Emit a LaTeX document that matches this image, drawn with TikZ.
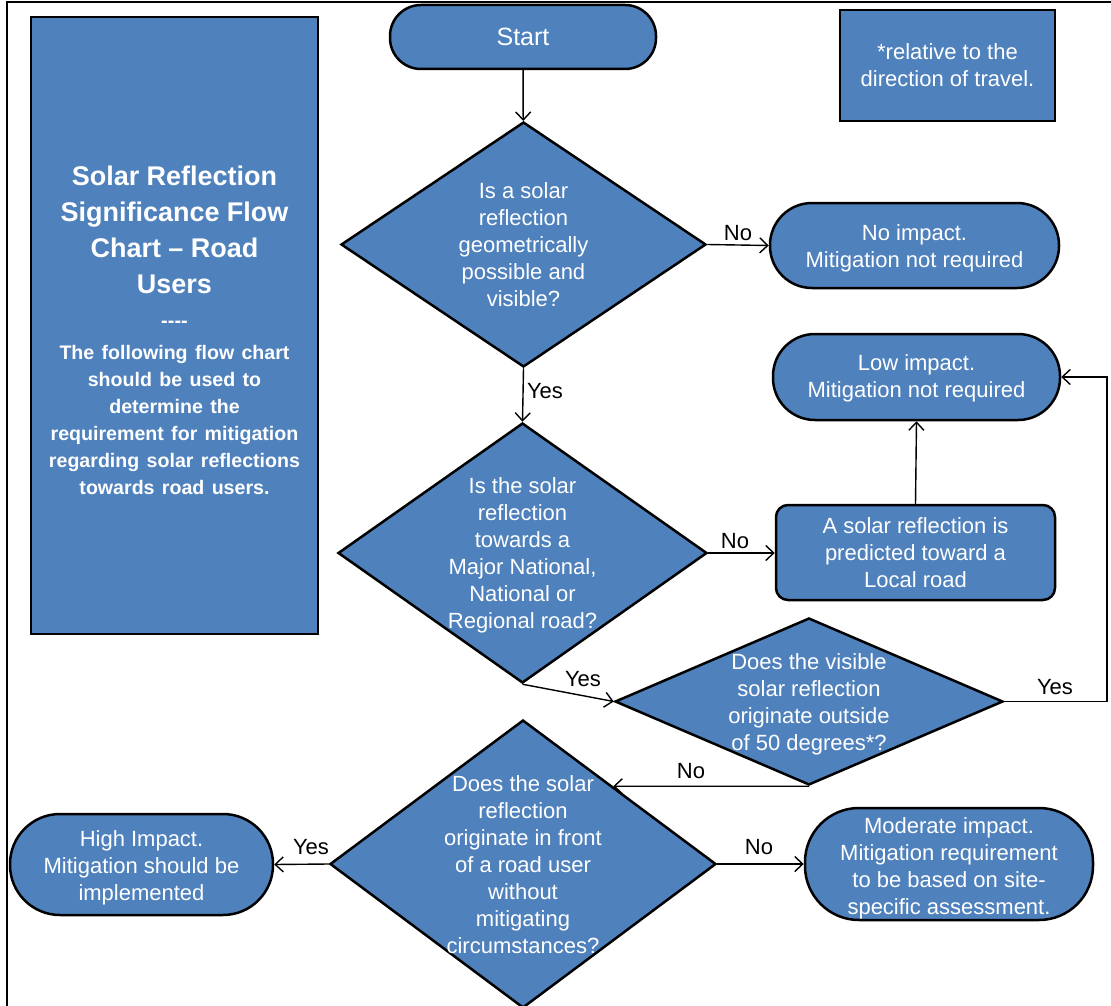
\documentclass[tikz,border=0pt]{standalone}
\usepackage{fontspec}
\setmainfont{Liberation Sans}
\usetikzlibrary{arrows.meta,shapes.geometric}
\definecolor{boxblue}{HTML}{4F81BD}
% zero-size centred block of lines, so long questions may run past the diamond outline
\newcommand\zlines[1]{\makebox[0pt]{\raisebox{-8pt}[0pt][0pt]{\begin{tabular}{@{}c@{}}#1\end{tabular}}}}
% tall invisible strut that lowers a text block a little inside its box
\newcommand\lowerby[1]{\rule{0pt}{#1}}
\begin{document}
\begin{tikzpicture}[x=1pt,y=-1pt,
  every node/.style={font=\fontsize{22}{27}\selectfont},
  blk/.style={draw=black, line width=2.5pt, fill=boxblue, text=white},
  term/.style={blk, rectangle, align=center, inner sep=0pt},
  dia/.style={blk, diamond, inner sep=0pt},
  conn/.style={draw=black, line width=1.4pt, -{Straight Barb[length=8pt,width=15pt,line width=1.4pt]}},
  lbl/.style={inner sep=0pt, text=black, font=\fontsize{22}{26}\selectfont}]
\useasboundingbox (0,0) rectangle (1111,1006);

% page frame
\draw[line width=1.5pt] (7,1006) -- (7,2) -- (1111,2);

% title panel
\node[term, text width=276, minimum width=287, minimum height=617] (title) at (174.5,325.5)
  {\bfseries{\fontsize{27}{36}\selectfont Solar Reflection\\Significance Flow\\Chart – Road\\Users\\[-2pt]
   {\fontsize{20}{27}\selectfont -\kern0pt-\kern0pt-\kern0pt-}\par}
   \vspace{5pt}
   {\fontsize{19.6}{27}\selectfont The following flow chart\\should be used to\\determine the\\requirement for mitigation\\regarding solar reflections\\towards road users.\par}
   \vspace{-10pt}};

% note
\node[term, minimum width=215, minimum height=111] (note) at (947.5,65.5)
  {*relative to the\\direction of travel.};

% terminals and process boxes
\node[term, minimum width=266, minimum height=64, rounded corners=31, font=\fontsize{25}{28}\selectfont] (start) at (523,37) {Start};
\node[term, minimum width=289, minimum height=85, rounded corners=42] (noimp) at (914.5,245.5)
  {\lowerby{21pt}No impact.\\Mitigation not required};
\node[term, minimum width=287, minimum height=86, rounded corners=42] (lowimp) at (916.5,377)
  {\lowerby{19pt}Low impact.\\Mitigation not required};
\node[term, minimum width=279, minimum height=95, rounded corners=12] (local) at (915.5,552.5)
  {A solar reflection is\\predicted toward a\\Local road};
\node[term, minimum width=263, minimum height=101, rounded corners=50] (highimp) at (141.5,864.5)
  {\lowerby{22pt}High Impact.\\Mitigation should be\\implemented};
\node[term, minimum width=288, minimum height=112, rounded corners=54] (modimp) at (949,864)
  {\lowerby{24pt}Moderate impact.\\Mitigation requirement\\to be based on site-\\specific assessment.};

% decisions
\node[dia, minimum width=365, minimum height=245] (d1) at (523.5,244.5)
  {\zlines{Is a solar\\reflection\\geometrically\\possible and\\visible?}};
\node[dia, minimum width=369, minimum height=260] (d2) at (522.5,553)
  {\zlines{Is the solar\\reflection\\towards a\\Major National,\\National or\\Regional road?}};
\node[dia, minimum width=388, minimum height=167] (d3) at (809,701.5)
  {\zlines{Does the visible\\solar reflection\\originate outside\\of 50 degrees*?}};
\node[dia, minimum width=386, minimum height=288] (d4) at (523,864)
  {\zlines{Does the solar\\reflection\\originate in front\\of a road user\\without\\mitigating\\circumstances?}};

% connectors
\coordinate (rturn) at (1107,701.5);
\coordinate (nolevel) at (d3.south -| d4.north);
\draw[conn] (start) -- (d1);
\draw[conn] (d1.east) -- (noimp.west);
\draw[conn] (d1.south) -- (d2.north);
\draw[conn] (d2.east) -- (d2.east -| local.west);
\draw[conn] (local.north) -- (lowimp.south);
\draw[conn] (d2.south) -- (d3.west);
\draw[conn] (d3.east) -- (rturn) |- (lowimp.east);
\draw[conn] (d3.south) -- (intersection of d4.north--d4.east and d3.south--nolevel);
\draw[conn] (d4.west) -- (highimp.east);
\draw[conn] (d4.east) -- (modimp.west);

% branch labels
\node[lbl] (l1) at (738,233) {No};
\node[lbl] (l2) at (545,391) {Yes};
\node[lbl] (l3) at (735,541) {No};
\node[lbl] (l4) at (583,679) {Yes};
\node[lbl] (l5) at (1055,687) {Yes};
\node[lbl] (l6) at (691,771) {No};
\node[lbl] (l7) at (311,847) {Yes};
\node[lbl] (l8) at (759,847) {No};
\end{tikzpicture}
\end{document}
